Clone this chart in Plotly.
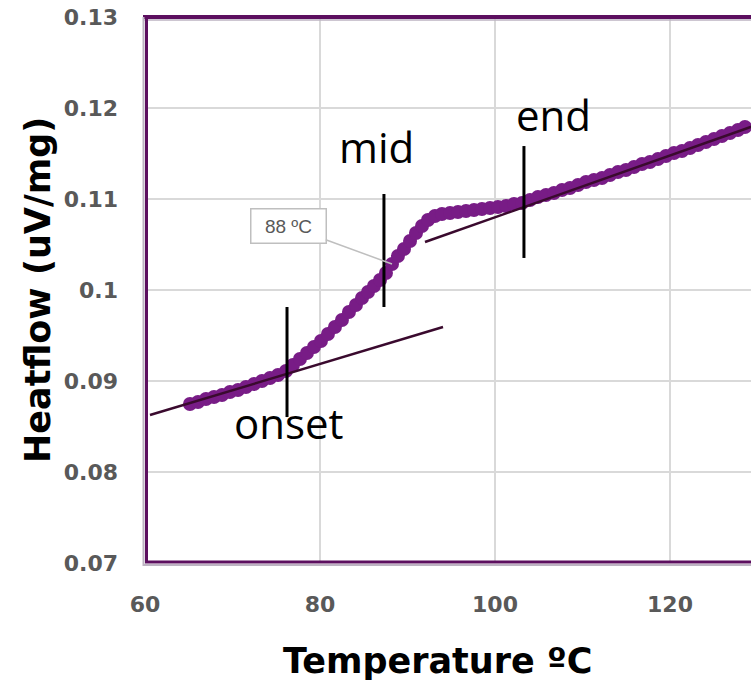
import plotly.graph_objects as go

# ---------------- data ----------------
temperature_c = [65.14, 66.06, 66.97, 67.89, 68.80, 69.71, 70.63, 71.54, 72.46, 73.37,
                 74.29, 75.20, 76.11, 76.91, 77.71, 78.51, 79.31, 80.11, 80.91,
                 81.71, 82.51, 83.31, 84.11, 84.80, 85.49, 86.17, 86.86, 87.54, 88.23,
                 88.91, 89.60, 90.29, 90.97, 91.66, 92.34, 93.14, 93.94, 94.86, 95.77,
                 96.69, 97.60, 98.51, 99.43, 100.34, 101.26, 102.17, 103.09, 104.00, 104.91,
                 105.83, 106.74, 107.66, 108.57, 109.49, 110.40, 111.31, 112.23, 113.14, 114.06,
                 114.97, 115.89, 116.80, 117.71, 118.63, 119.54, 120.46, 121.37, 122.29, 123.20,
                 124.11, 125.03, 125.94, 126.86, 127.77, 128.57]
heatflow = [0.08747, 0.08769, 0.08802, 0.08824, 0.08846, 0.08879, 0.08901, 0.08934, 0.08967, 0.09000,
            0.09033, 0.09066, 0.09110, 0.09176, 0.09242, 0.09308, 0.09374, 0.09440, 0.09516,
            0.09593, 0.09670, 0.09758, 0.09835, 0.09912, 0.09978, 0.10044, 0.10110, 0.10187, 0.10286,
            0.10374, 0.10451, 0.10538, 0.10626, 0.10703, 0.10769, 0.10813, 0.10835, 0.10846, 0.10857,
            0.10868, 0.10879, 0.10890, 0.10901, 0.10912, 0.10923, 0.10945, 0.10956, 0.10989, 0.11022,
            0.11044, 0.11066, 0.11099, 0.11121, 0.11154, 0.11187, 0.11209, 0.11231, 0.11264, 0.11297,
            0.11319, 0.11352, 0.11385, 0.11407, 0.11440, 0.11473, 0.11505, 0.11527, 0.11560, 0.11593,
            0.11626, 0.11659, 0.11692, 0.11725, 0.11758, 0.11791]
assert len(temperature_c) == len(heatflow)

# tangent (baseline) lines
onset_tangent_x = [60.57, 94.06]
onset_tangent_y = [0.08626, 0.09593]
end_tangent_x = [92.0, 130.0]
end_tangent_y = [0.10527, 0.11818]

# vertical marker lines: name -> (temperature, y_low, y_high)
marker_names = ["onset", "mid", "end"]
marker_temps = [76.23, 87.31, 103.31]
marker_y_low = [0.08604, 0.09813, 0.10352]
marker_y_high = [0.09813, 0.11055, 0.11582]

# text labels
label_text = ["onset", "mid", "end"]
label_x = [76.46, 86.51, 106.63]
label_y = [0.08549, 0.11582, 0.11934]

# callout
callout_text = "88 ºC"
callout_x = 88.23
callout_y = 0.10286

x_range = [60, 129.26]
y_range = [0.07, 0.13]
x_tick_vals = [60, 80, 100, 120]
x_tick_text = ["60", "80", "100", "120"]
y_tick_vals = [0.07, 0.08, 0.09, 0.10, 0.11, 0.12, 0.13]
y_tick_text = ["0.07", "0.08", "0.09", "0.1", "0.11", "0.12", "0.13"]

# ---------------- figure ----------------
W, H = 751, 684
ML, MR, MT, MB = 145, 0, 17, 121
PW, PH = W - ML - MR, H - MT - MB

PURPLE = "#781C86"
DARK = "#3a0a2e"
FRAME = "#5c0f5f"
FRAME_LIGHT = "#bdb3c2"
GRID = "#d9d9d9"
TICK = "#595959"

fig = go.Figure()

fig.add_trace(go.Scatter(
    x=temperature_c, y=heatflow, mode="markers",
    marker=dict(size=14, color=PURPLE, line=dict(width=0)),
    showlegend=False, hoverinfo="skip"))

fig.add_trace(go.Scatter(
    x=onset_tangent_x, y=onset_tangent_y, mode="lines",
    line=dict(color=DARK, width=2.5), showlegend=False, hoverinfo="skip"))
fig.add_trace(go.Scatter(
    x=end_tangent_x, y=end_tangent_y, mode="lines",
    line=dict(color=DARK, width=2.5), showlegend=False, hoverinfo="skip"))

for t, y0, y1 in zip(marker_temps, marker_y_low, marker_y_high):
    fig.add_trace(go.Scatter(
        x=[t, t], y=[y0, y1], mode="lines",
        line=dict(color="black", width=3), showlegend=False, hoverinfo="skip"))

annotations = []
for txt, x, y in zip(label_text, label_x, label_y):
    annotations.append(dict(
        x=x, y=y, xref="x", yref="y", text=txt, showarrow=False,
        xanchor="center", yanchor="middle",
        font=dict(family="Open Sans", size=42, color="black")))

annotations.append(dict(
    x=callout_x, y=callout_y, xref="x", yref="y", text=callout_text,
    showarrow=True, arrowhead=0, arrowwidth=1.5, arrowcolor="#bfbfbf",
    ax=-104, ay=-38, bgcolor="white", bordercolor="#bfbfbf", borderwidth=1.5,
    borderpad=4, width=66, height=25,
    font=dict(family="Liberation Sans", size=19, color=TICK)))

# axis titles
annotations.append(dict(
    x=0, y=0.5, xref="paper", yref="paper", xshift=-107,
    text="<b>Heatflow (uV/mg)</b>", textangle=-90, showarrow=False,
    xanchor="center", yanchor="middle",
    font=dict(family="DejaVu Sans", size=35, color="black")))
annotations.append(dict(
    x=(437 - ML) / PW, y=0, xref="paper", yref="paper", yshift=-98,
    text="<b>Temperature ºC</b>", showarrow=False,
    xanchor="center", yanchor="middle",
    font=dict(family="DejaVu Sans", size=35, color="black")))

# frame (double border: dark purple + light line), no right side visible
px, py = 1.0 / PW, 1.0 / PH
shapes = [
    dict(type="line", xref="paper", yref="paper", x0=-2 * px, x1=1, y0=1 - 3 * py, y1=1 - 3 * py,
         line=dict(color=FRAME_LIGHT, width=1.5)),
    dict(type="line", xref="paper", yref="paper", x0=-2 * px, x1=1, y0=1, y1=1,
         line=dict(color=FRAME, width=4)),
    dict(type="line", xref="paper", yref="paper", x0=-1.5 * px, x1=-1.5 * px, y0=-3 * py, y1=1,
         line=dict(color=FRAME_LIGHT, width=2)),
    dict(type="line", xref="paper", yref="paper", x0=1.5 * px, x1=1.5 * px, y0=0, y1=1,
         line=dict(color=FRAME, width=3)),
    dict(type="line", xref="paper", yref="paper", x0=-2 * px, x1=1, y0=-2 * py, y1=-2 * py,
         line=dict(color=FRAME_LIGHT, width=2)),
    dict(type="line", xref="paper", yref="paper", x0=0, x1=1, y0=1 * py, y1=1 * py,
         line=dict(color=FRAME, width=3)),
]

fig.update_layout(
    width=W, height=H,
    margin=dict(l=ML, r=MR, t=MT, b=MB),
    paper_bgcolor="white", plot_bgcolor="white",
    annotations=annotations, shapes=shapes,
    xaxis=dict(range=x_range, tickvals=x_tick_vals, ticktext=x_tick_text,
               showgrid=True, gridcolor=GRID, gridwidth=1.5, zeroline=False,
               showline=False, ticks="", ticklabelstandoff=26,
               tickfont=dict(family="DejaVu Sans", size=22, color=TICK, weight="bold")),
    yaxis=dict(range=y_range, tickvals=y_tick_vals, ticktext=y_tick_text,
               showgrid=True, gridcolor=GRID, gridwidth=1.5, zeroline=False,
               showline=False, ticks="", ticklabelstandoff=26,
               tickfont=dict(family="DejaVu Sans", size=22, color=TICK, weight="bold")),
)

fig.write_html("out.html", config={"displayModeBar": False})
